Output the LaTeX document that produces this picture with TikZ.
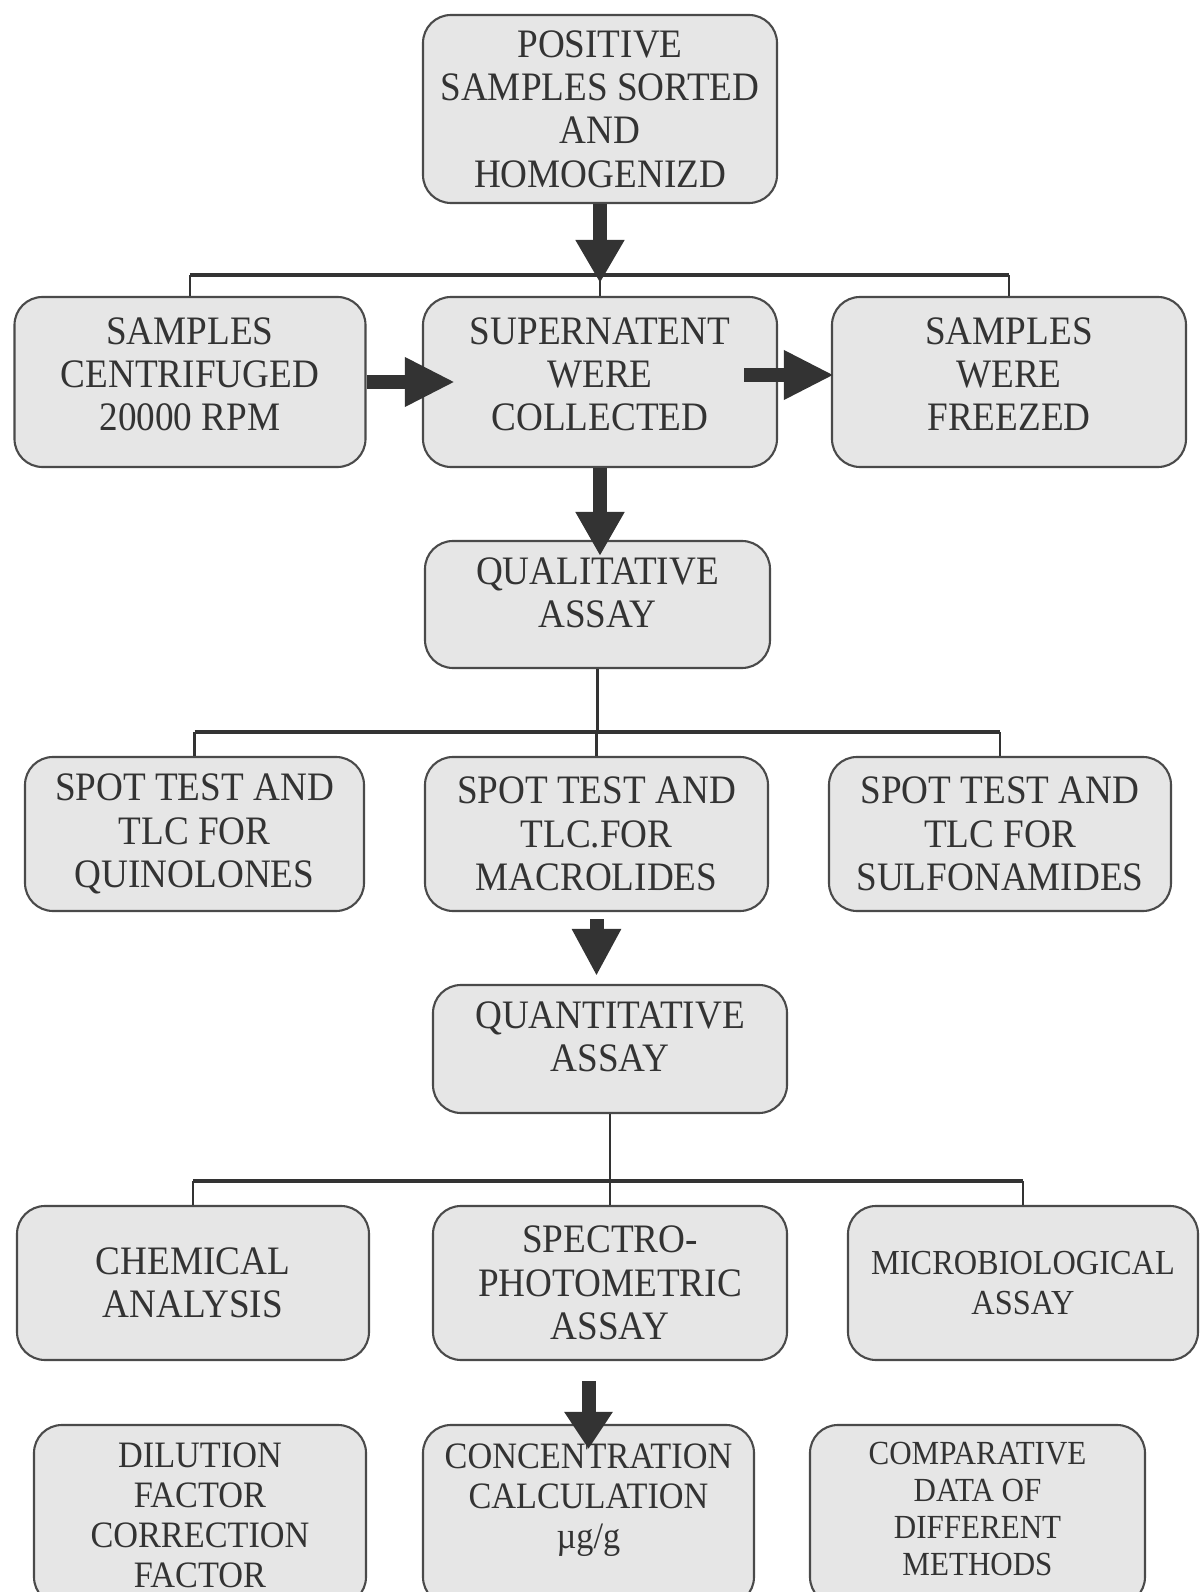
\documentclass[tikz,border=0pt]{standalone}
\usepackage{fontspec}
\setmainfont{Liberation Serif}[FakeStretch=0.92]
\usetikzlibrary{arrows.meta,calc}
\definecolor{boxfill}{HTML}{E6E6E6}
\definecolor{boxline}{HTML}{4A4A4A}
\definecolor{ink}{HTML}{333333}
\tikzset{
    box/.style={draw=boxline, line width=0.6pt, fill=boxfill, rounded corners=0.28cm,
        align=center, text=ink, inner sep=0pt, font=\fontsize{11.5}{12.3}\selectfont},
    smallbox/.style={box, font=\fontsize{10.6}{11.4}\selectfont},
    tinybox/.style={box, font=\fontsize{9.6}{10.5}\selectfont},
    barline/.style={draw=ink, line width=1.2pt},
    dropline/.style={draw=ink, line width=0.75pt},
    blockarrow/.style={draw=ink, line width=0.14cm, -{Triangle[width=0.46cm,length=#1]}},
    blockarrow/.default=0.45cm
}
\begin{document}
\begin{tikzpicture}
            \useasboundingbox (0,0) rectangle (12.01,15.92);

            % sorting and first split
            \node[box, minimum width=3.54cm, minimum height=1.88cm] (sorted) at (6.00,14.83) {POSITIVE\\SAMPLES SORTED\\AND\\HOMOGENIZD};
            \node[box, minimum width=3.51cm, minimum height=1.70cm, text depth=0.16cm] (centrif) at (1.90,12.10) {SAMPLES\\CENTRIFUGED\\20000 RPM};
            \node[box, minimum width=3.54cm, minimum height=1.70cm, text depth=0.16cm] (super) at (6.00,12.10) {SUPERNATENT\\WERE\\COLLECTED};
            \node[box, minimum width=3.54cm, minimum height=1.70cm, text depth=0.16cm] (freeze) at (10.09,12.10) {SAMPLES\\WERE\\FREEZED};

            \coordinate (split1) at (6.00,13.17);
            \draw[barline] (centrif.north |- split1) -- (freeze.north |- split1);
            \foreach \n in {centrif,super,freeze}
                {
                    \draw[dropline] (\n.north) -- (\n.north |- split1);
                }
            \draw[blockarrow=0.43cm] (sorted.south) -- ($(split1)+(0,-0.08)$);
            \draw[blockarrow=0.50cm] (centrif.east) -- ([xshift=0.33cm]super.west);
            \draw[blockarrow=0.50cm] ([xshift=-0.34cm,yshift=0.07cm]super.east) -- ([xshift=0.03cm,yshift=0.07cm]freeze.west);

            % qualitative assay
            \node[box, minimum width=3.45cm, minimum height=1.27cm, text depth=0.24cm] (qual) at (5.975,9.875) {QUALITATIVE\\ASSAY};
            \draw[blockarrow=0.44cm] (super.south) -- ($(super.south |- qual.north)+(0,-0.16)$);

            \node[box, minimum width=3.39cm, minimum height=1.54cm] (quin) at (1.945,7.58) {SPOT TEST AND\\TLC FOR\\QUINOLONES};
            \node[box, minimum width=3.43cm, minimum height=1.54cm] (macro) at (5.965,7.58) {SPOT TEST AND\\TLC.FOR\\MACROLIDES};
            \node[box, minimum width=3.42cm, minimum height=1.54cm] (sulfa) at (10.00,7.58) {SPOT TEST AND\\TLC FOR\\SULFONAMIDES};

            \coordinate (split2) at (5.975,8.60);
            \draw[dropline] (qual.south) -- (split2);
            \draw[barline] (quin.north |- split2) -- (sulfa.north |- split2);
            \foreach \n in {quin,macro,sulfa}
                {
                    \draw[dropline] (\n.north) -- (\n.north |- split2);
                }

            % quantitative assay
            \node[box, minimum width=3.54cm, minimum height=1.28cm, text depth=0.24cm] (quant) at (6.10,5.43) {QUANTITATIVE\\ASSAY};
            \draw[blockarrow=0.47cm] ($(macro.south)+(0,-0.07)$) -- ($(macro.south |- quant.north)+(0,0.08)$);

            \node[box, minimum width=3.52cm, minimum height=1.54cm] (chem) at (1.93,3.09) {CHEMICAL\\ANALYSIS};
            \node[box, minimum width=3.54cm, minimum height=1.54cm] (spectro) at (6.10,3.09) {SPECTRO-\\PHOTOMETRIC\\ASSAY};
            \node[box, minimum width=3.50cm, minimum height=1.54cm, font=\fontsize{10}{11.5}\selectfont] (micro) at (10.23,3.09) {MICROBIOLOGICAL\\ASSAY};

            \coordinate (split3) at (6.10,4.11);
            \draw[dropline] (quant.south) -- (split3);
            \draw[barline] (chem.north |- split3) -- (micro.north |- split3);
            \foreach \n in {chem,spectro,micro}
                {
                    \draw[dropline] (\n.north) -- (\n.north |- split3);
                }

            % results
            \node[smallbox, minimum width=3.32cm, minimum height=1.80cm] (dilution) at (2.00,0.77) {DILUTION\\FACTOR\\CORRECTION\\FACTOR};
            \node[smallbox, minimum width=3.31cm, minimum height=1.80cm, text depth=0.38cm] (conc) at (5.885,0.77) {CONCENTRATION\\CALCULATION\\µg/g};
            \node[tinybox, minimum width=3.35cm, minimum height=1.80cm, text depth=0.12cm] (compare) at (9.775,0.77) {COMPARATIVE\\DATA OF\\DIFFERENT\\METHODS};
            \draw[blockarrow=0.37cm] ($(conc.north |- spectro.south)+(0,-0.20)$) -- ($(conc.north)+(0,-0.25)$);
        \end{tikzpicture}
\end{document}
